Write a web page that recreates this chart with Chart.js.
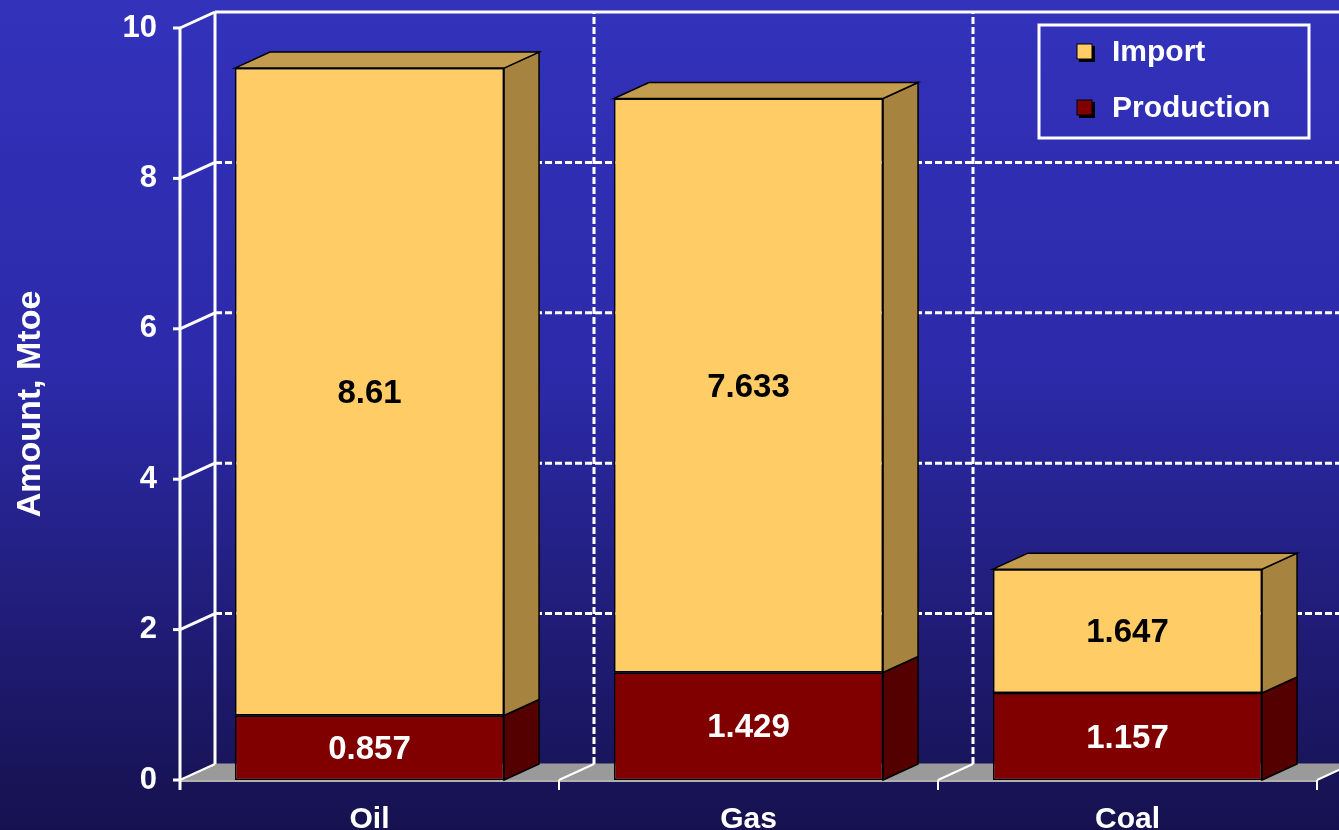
<!DOCTYPE html>
<html>
<head>
<meta charset="utf-8">
<script src="https://cdn.jsdelivr.net/npm/chart.js@4.4.1/dist/chart.umd.min.js"></script>
<style>
  html, body { margin: 0; padding: 0; background: #1f1d80; }
  #wrap { width: 1339px; height: 830px; }
</style>
</head>
<body>
<div id="wrap"><canvas id="grafico" width="1339" height="830"></canvas></div>
<script>
const categorias = ["Oil", "Gas", "Coal"];
const producao = [0.857, 1.429, 1.157];
const importacao = [8.61, 7.633, 1.647];
const rotuloProducao = ["0.857", "1.429", "1.157"];
const rotuloImportacao = ["8.61", "7.633", "1.647"];

const FONTE = '"Liberation Sans", Arial, sans-serif';
const FONTE_ESTREITA = '"Liberation Sans Narrow", "Arial Narrow", "Liberation Sans", sans-serif';
const DX = 35, DY = -16;

function linha(ctx, x1, y1, x2, y2) {
  ctx.beginPath();
  ctx.moveTo(x1, y1);
  ctx.lineTo(x2, y2);
  ctx.stroke();
}

function poligono(ctx, pts, cor) {
  ctx.beginPath();
  ctx.moveTo(pts[0][0], pts[0][1]);
  for (let i = 1; i < pts.length; i++) ctx.lineTo(pts[i][0], pts[i][1]);
  ctx.closePath();
  ctx.fillStyle = cor;
  ctx.fill();
  ctx.stroke();
}

// fundo, parede do fundo, chao e eixos "3D"
const cena3d = {
  id: "cena3d",
  beforeDraw(chart) {
    const ctx = chart.ctx;
    const g = ctx.createLinearGradient(0, 0, 0, chart.height);
    g.addColorStop(0, "#3232bb");
    g.addColorStop(0.45, "#2c2aa9");
    g.addColorStop(1, "#16114e");
    ctx.save();
    ctx.fillStyle = g;
    ctx.fillRect(0, 0, chart.width, chart.height);
    ctx.restore();
  },
  beforeDatasetsDraw(chart) {
    const { ctx, chartArea: a, scales: { x, y } } = chart;
    ctx.save();

    // chao
    ctx.strokeStyle = "#9a9a9a";
    ctx.lineWidth = 1;
    poligono(ctx, [[a.left, a.bottom], [a.right, a.bottom], [a.right + DX, a.bottom + DY], [a.left + DX, a.bottom + DY]], "#9a9a9a");
    ctx.strokeStyle = "#b0b0b0";
    ctx.lineWidth = 2;
    linha(ctx, a.left, a.bottom + 1, a.right, a.bottom + 1);

    ctx.strokeStyle = "#ffffff";

    // grades horizontais na parede do fundo
    y.ticks.forEach(t => {
      const py = y.getPixelForValue(t.value);
      ctx.lineWidth = 3;
      ctx.setLineDash([]);
      linha(ctx, a.left - 7, py, a.left, py);
      if (t.value === 0) {
        ctx.lineWidth = 2;
        linha(ctx, a.left, py, a.left + DX, py + DY);
        return;
      }
      linha(ctx, a.left, py, a.left + DX, py + DY);
      if (t.value !== y.max) ctx.setLineDash([7, 3]);
      linha(ctx, a.left + DX, py + DY, chart.width, py + DY);
    });

    // divisoes verticais entre categorias
    const passo = x.getPixelForValue(1) - x.getPixelForValue(0);
    for (let i = 0; i <= categorias.length; i++) {
      const bx = x.getPixelForValue(Math.min(i, categorias.length - 1)) + (i === categorias.length ? passo / 2 : -passo / 2);
      ctx.lineWidth = 3;
      ctx.setLineDash(i === 0 ? [] : [7, 3]);
      linha(ctx, bx + DX, a.bottom + DY, bx + DX, a.top + DY);
      ctx.setLineDash([]);
      ctx.lineWidth = 2;
      if (i > 0) linha(ctx, bx, a.bottom, bx + DX, a.bottom + DY);
      linha(ctx, bx, a.bottom, bx, a.bottom + 10);
    }

    // eixo y da frente
    ctx.lineWidth = 3;
    linha(ctx, a.left, a.top, a.left, a.bottom + 10);
    ctx.restore();
  },
  afterDatasetsDraw(chart) {
    const ctx = chart.ctx;
    const ultimo = chart.data.datasets.length - 1;
    ctx.save();
    ctx.strokeStyle = "#000000";
    ctx.lineWidth = 1.5;
    chart.data.datasets.forEach((ds, di) => {
      const meta = chart.getDatasetMeta(di);
      meta.data.forEach((el, i) => {
        const p = el.getProps(["x", "y", "base", "width"], true);
        const esq = p.x - p.width / 2, dir = p.x + p.width / 2;
        const topo = Math.min(p.y, p.base), fundo = Math.max(p.y, p.base);
        poligono(ctx, [[dir, topo], [dir + DX, topo + DY], [dir + DX, fundo + DY], [dir, fundo]], ds.corLado);
        if (di === ultimo) {
          poligono(ctx, [[esq, topo], [esq + DX, topo + DY], [dir + DX, topo + DY], [dir, topo]], ds.corTopo);
        }
        ctx.fillStyle = ds.corTexto;
        ctx.font = "bold 33px " + FONTE;
        ctx.textAlign = "center";
        ctx.textBaseline = "middle";
        ctx.fillText(ds.rotulos[i], p.x, (topo + fundo) / 2 + 2);
      });
    });

    // legenda
    ctx.strokeStyle = "#ffffff";
    ctx.lineWidth = 3;
    ctx.strokeRect(1039, 25, 270, 113);
    const itens = [chart.data.datasets[1], chart.data.datasets[0]];
    itens.forEach((ds, k) => {
      const cy = 52 + k * 56;
      ctx.fillStyle = "#000000";
      ctx.fillRect(1079, cy - 6, 16, 16);
      ctx.fillStyle = ds.backgroundColor;
      ctx.fillRect(1077, cy - 8, 15, 15);
      ctx.lineWidth = 1;
      ctx.strokeStyle = "#000000";
      ctx.strokeRect(1077, cy - 8, 15, 15);
      ctx.fillStyle = "#ffffff";
      ctx.font = "bold 30px " + FONTE;
      ctx.textAlign = "left";
      ctx.textBaseline = "middle";
      ctx.fillText(ds.label, 1112, cy + 1);
    });
    ctx.restore();
  }
};

const ctx = document.getElementById("grafico").getContext("2d");

new Chart(ctx, {
  type: "bar",
  data: {
    labels: categorias,
    datasets: [
      {
        label: "Production",
        data: producao,
        rotulos: rotuloProducao,
        backgroundColor: "#800000",
        corLado: "#550000",
        corTopo: "#6a0000",
        corTexto: "#ffffff",
        borderColor: "#000000",
        borderWidth: 1.5,
        borderSkipped: false
      },
      {
        label: "Import",
        data: importacao,
        rotulos: rotuloImportacao,
        backgroundColor: "#ffcc66",
        corLado: "#a6843f",
        corTopo: "#c49c50",
        corTexto: "#000000",
        borderColor: "#000000",
        borderWidth: 1.5,
        borderSkipped: false
      }
    ]
  },
  options: {
    responsive: false,
    animation: false,
    layout: { padding: { top: 28, right: 22, left: 0, bottom: 0 } },
    barPercentage: 0.71,
    categoryPercentage: 1.0,
    plugins: {
      legend: { display: false },
      tooltip: { enabled: false }
    },
    scales: {
      x: {
        stacked: true,
        grid: { display: false },
        border: { display: false },
        ticks: { color: "#ffffff", font: { family: FONTE, size: 30, weight: "bold" }, padding: 14 },
        afterFit(s) { s.height = 50; s.paddingLeft = 0; s.paddingRight = 0; }
      },
      y: {
        stacked: true,
        min: 0,
        max: 10,
        grid: { display: false },
        border: { display: false },
        ticks: { stepSize: 2, color: "#ffffff", font: { family: FONTE_ESTREITA, size: 31, weight: "bold" }, padding: 15 },
        title: {
          display: true,
          text: "Amount, Mtoe",
          color: "#ffffff",
          font: { family: FONTE, size: 34, weight: "bold" },
          padding: { top: 10, bottom: 0 }
        },
        afterFit(s) { s.width = 180; s.paddingTop = 0; s.paddingBottom = 0; }
      }
    }
  },
  plugins: [cena3d]
});
</script>
</body>
</html>
